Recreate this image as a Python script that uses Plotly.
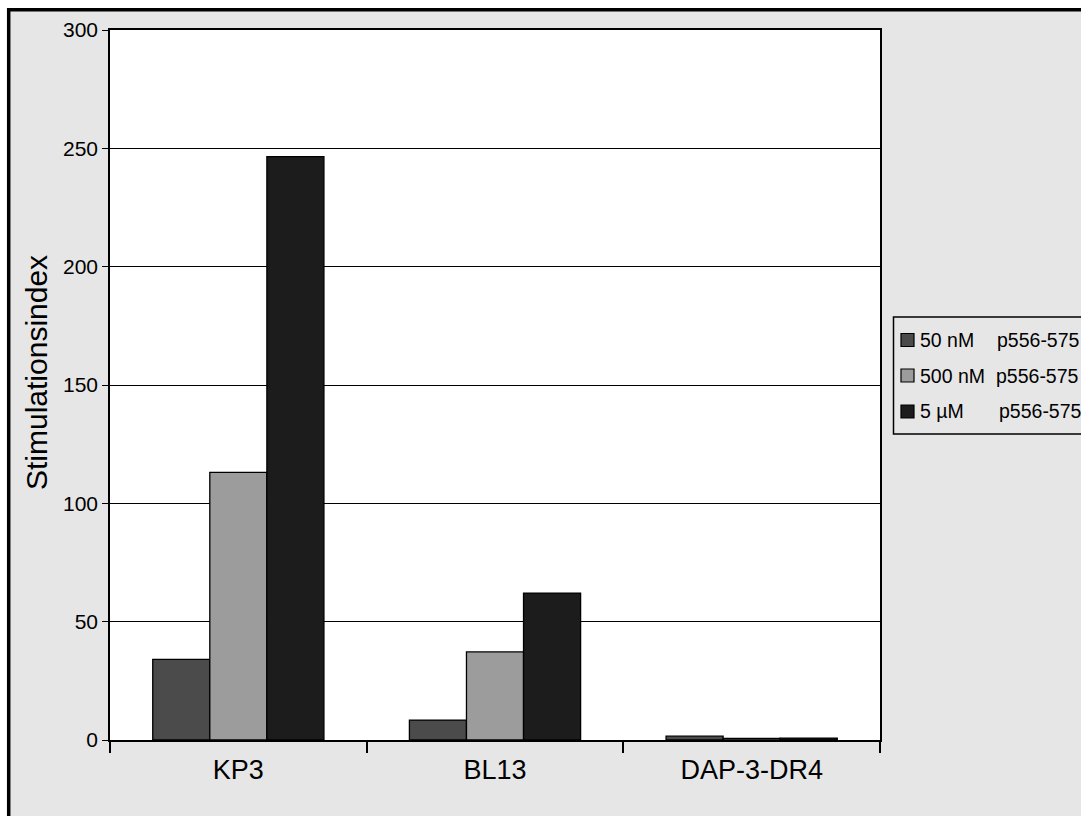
import plotly.graph_objects as go

# Data
categories = ["KP3", "BL13", "DAP-3-DR4"]
series_names = ["50 nM", "500 nM", "5 µM"]
peptide = "p556-575"
values_50nM = [34.1, 8.4, 1.6]
values_500nM = [113.1, 37.2, 0.7]
values_5uM = [246.5, 62.1, 0.8]
series_values = [values_50nM, values_500nM, values_5uM]
bar_colors = ["#4b4b4b", "#9c9c9c", "#1c1c1c"]
y_ticks = [0, 50, 100, 150, 200, 250, 300]
y_title = "Stimulationsindex"

W, H = 1081, 816
L, R, T, B = 110, 880, 30, 740  # plot-area edges in pixels
FONT = "Liberation Sans, Arial, sans-serif"
BG = "#e6e6e6"


def px_x(px):
    return (px - L) / (R - L)


def px_y(py):
    return 1 - (py - T) / (B - T)


fig = go.Figure()
for name, vals, col in zip(series_names, series_values, bar_colors):
    fig.add_trace(go.Bar(
        x=categories, y=vals, name=f"{name} {peptide}",
        marker=dict(color=col, line=dict(color="#000000", width=1.3)),
        showlegend=False,
    ))

shapes = [
    # grey chart background with black frame on top/left
    dict(type="rect", xref="paper", yref="paper", layer="below",
         x0=px_x(8.7), x1=px_x(W + 20), y0=px_y(9.7), y1=px_y(H + 20),
         fillcolor=BG, line=dict(color="#000000", width=3.5)),
    # white plot area
    dict(type="rect", xref="paper", yref="paper", layer="below",
         x0=0, x1=1, y0=0, y1=1, fillcolor="#ffffff", line=dict(width=0)),
    # legend box
    dict(type="rect", xref="paper", yref="paper", layer="above",
         x0=px_x(893.5), x1=px_x(W + 20), y0=px_y(317), y1=px_y(434),
         fillcolor="rgba(0,0,0,0)", line=dict(color="#000000", width=1.5)),
]

annotations = [
    # y-axis title
    dict(xref="paper", yref="paper", x=px_x(36), y=px_y(373),
         xanchor="center", yanchor="middle", showarrow=False, textangle=-90,
         text=y_title, font=dict(family=FONT, size=30, color="#000000")),
]
row_y = [340, 375.5, 411.5]
p_x = [995, 994, 997]
for i, (name, col) in enumerate(zip(series_names, bar_colors)):
    cy = row_y[i]
    shapes.append(dict(type="rect", xref="paper", yref="paper", layer="above",
                       x0=px_x(901), x1=px_x(914), y0=px_y(cy - 6.5), y1=px_y(cy + 6.5),
                       fillcolor=col, line=dict(color="#000000", width=1.2)))
    annotations.append(dict(xref="paper", yref="paper", x=px_x(918), y=px_y(cy),
                            xanchor="left", yanchor="middle", showarrow=False,
                            text=name, font=dict(family=FONT, size=19.5, color="#000000")))
    annotations.append(dict(xref="paper", yref="paper", x=px_x(p_x[i]), y=px_y(cy),
                            xanchor="left", yanchor="middle", showarrow=False,
                            text=peptide, font=dict(family=FONT, size=19.5, color="#000000")))

fig.update_layout(
    width=W, height=H,
    margin=dict(l=L, r=W - R, t=T, b=H - B, pad=0),
    paper_bgcolor="#ffffff",
    plot_bgcolor="#ffffff",
    barmode="group",
    bargap=0.333,
    bargroupgap=0,
    showlegend=False,
    font=dict(family=FONT, color="#000000"),
    shapes=shapes,
    annotations=annotations,
)

fig.update_xaxes(
    type="category",
    showline=True, linecolor="#000000", linewidth=1.5, mirror=True,
    ticks="outside", tickson="boundaries", ticklen=11, tickwidth=1.5, tickcolor="#000000",
    tickfont=dict(family=FONT, size=27, color="#000000"),
    ticklabelstandoff=5,
    showgrid=False, automargin=False,
)

fig.update_yaxes(
    range=[0, 300], tickvals=y_ticks,
    showline=True, linecolor="#000000", linewidth=1.5, mirror=True,
    ticks="outside", ticklen=6, tickwidth=1.2, tickcolor="#000000",
    tickfont=dict(family=FONT, size=21, color="#000000"),
    showgrid=True, gridcolor="#000000", gridwidth=1,
    zeroline=False, automargin=False,
)

fig.write_html("out.html")
